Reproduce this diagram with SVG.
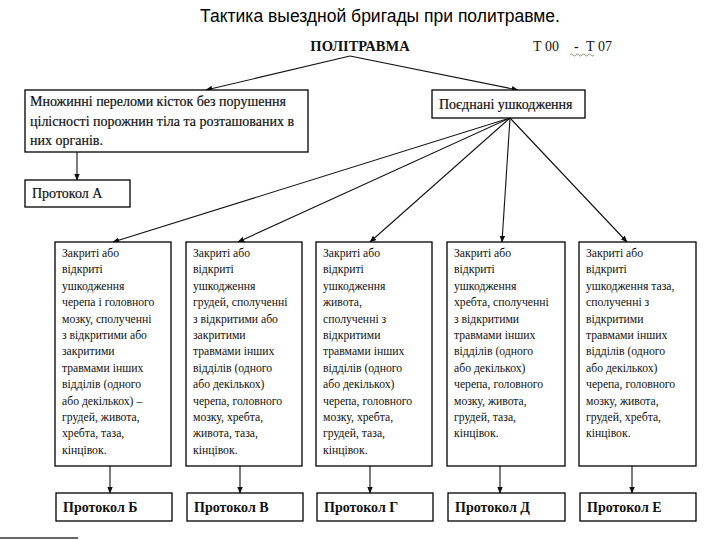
<svg xmlns="http://www.w3.org/2000/svg" width="720" height="540" viewBox="0 0 720 540">
<style>
.box{fill:#fff;stroke:#000;stroke-width:1.3}
.t{font-family:"Liberation Serif","Times New Roman",serif;fill:#111}
.s{font-size:11.7px}
.m{font-size:14px;stroke:#111;stroke-width:0.2}
.p{font-size:14px;font-weight:bold}
.c{fill:none;stroke:#111;stroke-width:1.1}
</style>
<defs>
<marker id="ah" viewBox="0 0 10 10" refX="9" refY="5" markerWidth="7" markerHeight="7" orient="auto" markerUnits="userSpaceOnUse">
<path d="M0,1 L10,5 L0,9 Z" fill="#111"/>
</marker>
</defs>
<rect width="720" height="540" fill="#fff"/>
<text x="380" y="22" text-anchor="middle" font-family="Liberation Sans, Arial, sans-serif" font-size="17.5" fill="#000">Тактика выездной бригады при политравме.</text>

<g id="politravma">
<text class="t" x="360" y="51" text-anchor="middle" font-size="14.5" font-weight="bold">ПОЛІТРАВМА</text>
<text class="t" x="533" y="51" font-size="14">Т 00</text>
<text class="t" x="574" y="51" font-size="14">-</text>
<text class="t" x="586" y="51" font-size="14">Т 07</text>
<path d="M570,55 q1.5,-2 3,0 t3,0 t3,0 t3,0 t3,0 t3,0 t3,0 t3,0" fill="none" stroke="#6a7a60" stroke-width="0.8"/>
</g>

<g id="connectors">
<polyline class="c" points="350,56 206,90" marker-end="url(#ah)"/>
<polyline class="c" points="350,56 518,90" marker-end="url(#ah)"/>
<line class="c" x1="77" y1="152" x2="77" y2="180" marker-end="url(#ah)"/>
<line class="c" x1="510" y1="118" x2="113" y2="242" marker-end="url(#ah)"/>
<line class="c" x1="510" y1="118" x2="238" y2="242" marker-end="url(#ah)"/>
<line class="c" x1="510" y1="118" x2="370" y2="242" marker-end="url(#ah)"/>
<line class="c" x1="510" y1="118" x2="502" y2="242" marker-end="url(#ah)"/>
<line class="c" x1="510" y1="118" x2="627" y2="242" marker-end="url(#ah)"/>
<line class="c" x1="110" y1="466" x2="110" y2="493" marker-end="url(#ah)"/>
<line class="c" x1="240" y1="466" x2="240" y2="493" marker-end="url(#ah)"/>
<line class="c" x1="370" y1="466" x2="370" y2="493" marker-end="url(#ah)"/>
<line class="c" x1="500" y1="466" x2="500" y2="493" marker-end="url(#ah)"/>
<line class="c" x1="632" y1="466" x2="632" y2="493" marker-end="url(#ah)"/>
</g>

<g id="mnozhynni">
<rect class="box" x="25" y="90" width="283" height="62"/>
<text class="t m" x="30" y="106">Множинні переломи кісток без порушення</text>
<text class="t m" x="30" y="126">цілісності порожнин тіла та розташованих в</text>
<text class="t m" x="30" y="145">них органів.</text>
</g>

<g id="poednani">
<rect class="box" x="432" y="90" width="153" height="28"/>
<text class="t m" x="439" y="109">Поєднані ушкодження</text>
</g>

<g id="protokolA">
<rect class="box" x="25" y="180" width="105" height="27"/>
<text class="t m" x="32" y="198">Протокол А</text>
</g>

<g id="box1">
<rect class="box" x="55" y="242" width="116" height="224"/>
<text class="t s" x="62" y="257">Закриті або</text>
<text class="t s" x="62" y="273.4">відкриті</text>
<text class="t s" x="62" y="289.8">ушкодження</text>
<text class="t s" x="62" y="306.2">черепа і головного</text>
<text class="t s" x="62" y="322.6">мозку, сполученні</text>
<text class="t s" x="62" y="339">з відкритими або</text>
<text class="t s" x="62" y="355.4">закритими</text>
<text class="t s" x="62" y="371.8">травмами інших</text>
<text class="t s" x="62" y="388.2">відділів (одного</text>
<text class="t s" x="62" y="404.6">або декількох) –</text>
<text class="t s" x="62" y="421">грудей, живота,</text>
<text class="t s" x="62" y="437.4">хребта, таза,</text>
<text class="t s" x="62" y="453.8">кінцівок.</text>
</g>

<g id="box2">
<rect class="box" x="186" y="242" width="116" height="224"/>
<text class="t s" x="193" y="257">Закриті або</text>
<text class="t s" x="193" y="273.4">відкриті</text>
<text class="t s" x="193" y="289.8">ушкодження</text>
<text class="t s" x="193" y="306.2">грудей, сполученні</text>
<text class="t s" x="193" y="322.6">з відкритими або</text>
<text class="t s" x="193" y="339">закритими</text>
<text class="t s" x="193" y="355.4">травмами інших</text>
<text class="t s" x="193" y="371.8">відділів (одного</text>
<text class="t s" x="193" y="388.2">або декількох)</text>
<text class="t s" x="193" y="404.6">черепа, головного</text>
<text class="t s" x="193" y="421">мозку, хребта,</text>
<text class="t s" x="193" y="437.4">живота, таза,</text>
<text class="t s" x="193" y="453.8">кінцівок.</text>
</g>

<g id="box3">
<rect class="box" x="316" y="242" width="116" height="224"/>
<text class="t s" x="323" y="257">Закриті або</text>
<text class="t s" x="323" y="273.4">відкриті</text>
<text class="t s" x="323" y="289.8">ушкодження</text>
<text class="t s" x="323" y="306.2">живота,</text>
<text class="t s" x="323" y="322.6">сполученні з</text>
<text class="t s" x="323" y="339">відкритими</text>
<text class="t s" x="323" y="355.4">травмами інших</text>
<text class="t s" x="323" y="371.8">відділів (одного</text>
<text class="t s" x="323" y="388.2">або декількох)</text>
<text class="t s" x="323" y="404.6">черепа, головного</text>
<text class="t s" x="323" y="421">мозку, хребта,</text>
<text class="t s" x="323" y="437.4">грудей, таза,</text>
<text class="t s" x="323" y="453.8">кінцівок.</text>
</g>

<g id="box4">
<rect class="box" x="447" y="242" width="118" height="224"/>
<text class="t s" x="454" y="257">Закриті або</text>
<text class="t s" x="454" y="273.4">відкриті</text>
<text class="t s" x="454" y="289.8">ушкодження</text>
<text class="t s" x="454" y="306.2">хребта, сполученні</text>
<text class="t s" x="454" y="322.6">з відкритими</text>
<text class="t s" x="454" y="339">травмами інших</text>
<text class="t s" x="454" y="355.4">відділів (одного</text>
<text class="t s" x="454" y="371.8">або декількох)</text>
<text class="t s" x="454" y="388.2">черепа, головного</text>
<text class="t s" x="454" y="404.6">мозку, живота,</text>
<text class="t s" x="454" y="421">грудей, таза,</text>
<text class="t s" x="454" y="437.4">кінцівок.</text>
</g>

<g id="box5">
<rect class="box" x="579" y="242" width="117" height="224"/>
<text class="t s" x="586" y="257">Закриті або</text>
<text class="t s" x="586" y="273.4">відкриті</text>
<text class="t s" x="586" y="289.8">ушкодження таза,</text>
<text class="t s" x="586" y="306.2">сполученні з</text>
<text class="t s" x="586" y="322.6">відкритими</text>
<text class="t s" x="586" y="339">травмами інших</text>
<text class="t s" x="586" y="355.4">відділів (одного</text>
<text class="t s" x="586" y="371.8">або декількох)</text>
<text class="t s" x="586" y="388.2">черепа, головного</text>
<text class="t s" x="586" y="404.6">мозку, живота,</text>
<text class="t s" x="586" y="421">грудей, хребта,</text>
<text class="t s" x="586" y="437.4">кінцівок.</text>
</g>

<g id="protokolB">
<rect class="box" x="56" y="493" width="116" height="28"/>
<text class="t p" x="63" y="512">Протокол Б</text>
</g>
<g id="protokolV">
<rect class="box" x="187" y="493" width="116" height="28"/>
<text class="t p" x="194" y="512">Протокол В</text>
</g>
<g id="protokolG">
<rect class="box" x="317" y="493" width="116" height="28"/>
<text class="t p" x="324" y="512">Протокол Г</text>
</g>
<g id="protokolD">
<rect class="box" x="448" y="493" width="117" height="28"/>
<text class="t p" x="455" y="512">Протокол Д</text>
</g>
<g id="protokolE">
<rect class="box" x="580" y="493" width="116" height="28"/>
<text class="t p" x="587" y="512">Протокол Е</text>
</g>

<line x1="0" y1="538" x2="78" y2="538" stroke="#333" stroke-width="1.5"/>
</svg>
